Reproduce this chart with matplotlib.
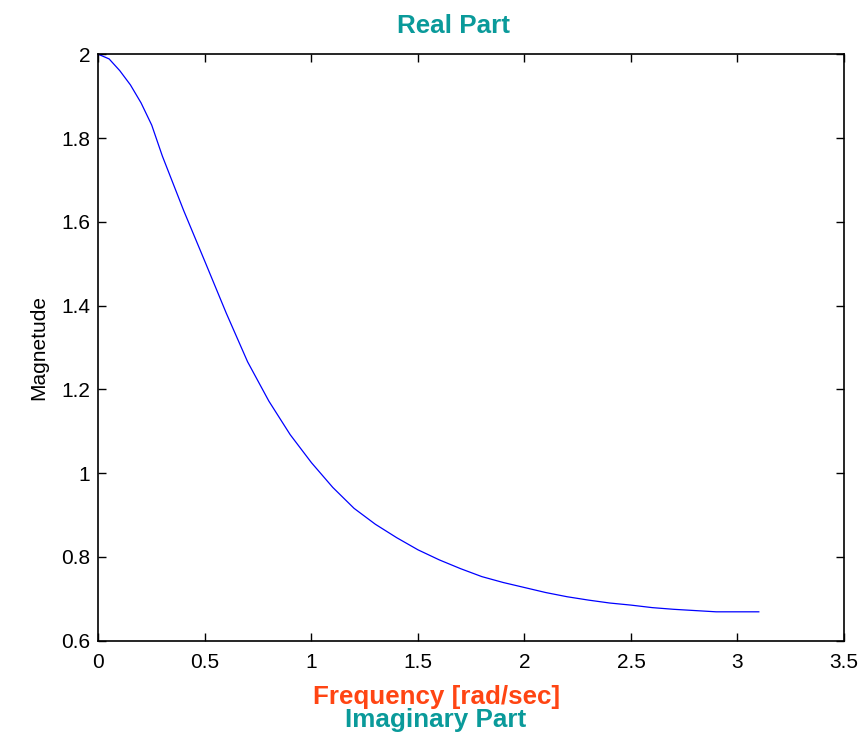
import matplotlib
matplotlib.use("Agg")
import matplotlib.pyplot as plt

# === Data ===
freq = [0.0, 0.05, 0.1, 0.15, 0.2, 0.25, 0.3, 0.4, 0.5, 0.6, 0.7, 0.8,
        0.9, 1.0, 1.1, 1.2, 1.3, 1.4, 1.5, 1.6, 1.7, 1.8, 1.9, 2.0,
        2.1, 2.2, 2.3, 2.4, 2.5, 2.6, 2.7, 2.8, 2.9, 3.0, 3.1]
magn = [2.000, 1.989, 1.961, 1.927, 1.884, 1.831, 1.757, 1.627, 1.505,
        1.382, 1.266, 1.172, 1.092, 1.025, 0.966, 0.916, 0.878, 0.846,
        0.817, 0.793, 0.772, 0.753, 0.739, 0.727, 0.715, 0.705, 0.697,
        0.690, 0.685, 0.679, 0.675, 0.672, 0.669, 0.669, 0.669]
xticks = [0, 0.5, 1, 1.5, 2, 2.5, 3, 3.5]
xticklabels = ["0", "0.5", "1", "1.5", "2", "2.5", "3", "3.5"]
yticks = [0.6, 0.8, 1.0, 1.2, 1.4, 1.6, 1.8, 2.0]
yticklabels = ["0.6", "0.8", "1", "1.2", "1.4", "1.6", "1.8", "2"]

plt.rcParams['font.family'] = ['Liberation Sans', 'DejaVu Sans']

teal = "#0a9a9a"
orange = "#ff4513"

fig = plt.figure(figsize=(8.66, 7.42), dpi=100)
ax = fig.add_axes([0.1137, 0.1365, 0.8609, 0.7903])

ax.plot(freq, magn, color="#0000ff", lw=0.9)
ax.set_xlim(0, 3.5)
ax.set_ylim(0.6, 2)
ax.set_xticks(xticks)
ax.set_xticklabels(xticklabels)
ax.set_yticks(yticks)
ax.set_yticklabels(yticklabels)
ax.tick_params(direction="in", length=6, width=1, labelsize=15,
               top=True, right=True, pad=9)
ax.tick_params(axis="y", pad=6)
for s in ax.spines.values():
    s.set_linewidth(1.2)

ax.set_ylabel("Magnetude", fontsize=15, labelpad=9)

# titles / labels placed like the original figure
fig.text(0.5237, 0.9551, "Real Part", color=teal, fontsize=18.7,
         fontweight="bold", ha="center", va="baseline")
fig.text(0.5046, 0.0512, "Frequency [rad/sec]", color=orange, fontsize=18.7,
         fontweight="bold", ha="center", va="baseline")
fig.text(0.5035, 0.0202, "Imaginary Part", color=teal, fontsize=18.7,
         fontweight="bold", ha="center", va="baseline")

fig.savefig("out.png", dpi=100)
